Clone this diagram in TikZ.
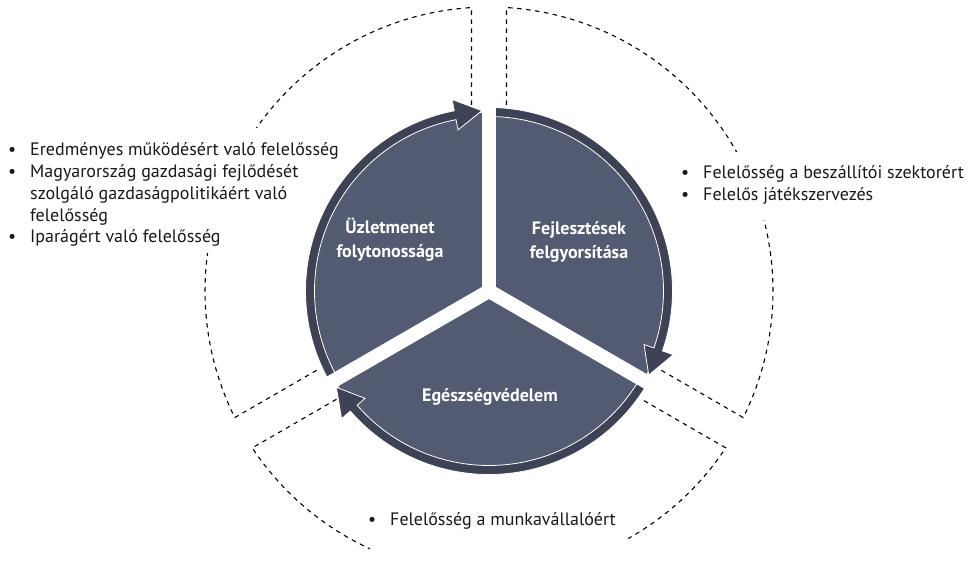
\documentclass[tikz,border=0pt]{standalone}
\usepackage{fontspec}
\setmainfont{PT Sans}
\usepackage{array}
\definecolor{slate}{RGB}{83,91,115}
\definecolor{bandc}{RGB}{61,66,85}
\pgfdeclarelayer{dashlayer}
\pgfdeclarelayer{masklayer}
\pgfsetlayers{dashlayer,masklayer,main}
\newcommand{\arrowband}[3]{%
  \filldraw[bandstyle] (#1:183.5) arc[start angle=#1, end angle=#2, radius=183.5]
    -- (#2:195) -- (#3:180.5) -- (#2:164) -- (#2:174.5)
    arc[start angle=#2, end angle=#1, radius=174.5] -- cycle;}
\begin{document}
\begin{tikzpicture}[x=1pt,y=1pt,
  bandstyle/.style={fill=bandc, draw=white, line width=0.8pt, line join=miter},
  dashline/.style={draw=black, line width=1.1pt, dash pattern=on 4.5pt off 4.5pt},
  gapline/.style={draw=white, line width=14pt, line cap=round},
  label/.style={text=white, font=\fontsize{18}{24}\selectfont\bfseries, align=center},
  listtext/.style={font=\fontsize{18}{21.7}\selectfont, inner sep=0pt, text=black!90},
  mask/.style={fill=white}]
\useasboundingbox (0,0) rectangle (968,578);
\begin{scope}[shift={(489,287)}]
  % dashed outer sectors
  \begin{pgfonlayer}{dashlayer}
  \draw[dashline] (95.37:187) -- (93.53:284) arc[start angle=93.53, end angle=206.47, radius=284] -- (204.63:187);
  \draw[dashline] (84.63:187) -- (86.47:284) arc[start angle=86.47, end angle=-26.47, radius=284] -- (-24.63:187);
  \draw[dashline] (215.37:187) -- (213.53:284) arc[start angle=213.53, end angle=326.47, radius=284] -- (324.63:187);
  \end{pgfonlayer}
  % inner disk
  \fill[slate] (0,0) circle (178);
  % arrow bands
  \arrowband{210}{100.9}{92.24}
  \arrowband{90}{-19.06}{-27.76}
  \arrowband{330}{220.9}{212.24}
  % gaps
  \foreach \a in {90,-30,210} \draw[gapline] (0,0) -- (\a:200);
  % labels
  \node[label] (uzlet) at (-99,51) {Üzletmenet\\folytonossága};
  \node[label] (fejl) at (90,49) {Fejlesztések\\felgyorsítása};
  \node[label] (egesz) at (1,-106) {Egészségvédelem};
\end{scope}
\node[listtext, anchor=base west] (leftlist) at (8,422) {%
  \begin{tabular}[t]{@{}p{22pt}@{}l@{}}
  • & Eredményes működésért való felelősség\\
  • & Magyarország gazdasági fejlődését\\
   & szolgáló gazdaságpolitikáért való\\
   & felelősség\\
  • & Iparágért való felelősség
  \end{tabular}};
\node[listtext, anchor=base west] (rightlist) at (681,399) {%
  \begin{tabular}[t]{@{}p{22pt}@{}l@{}}
  • & Felelősség a beszállítói szektorért\\
  • & Felelős játékszervezés
  \end{tabular}};
\node[listtext, anchor=base west] (bottomlist) at (368,53) {%
  \begin{tabular}[t]{@{}p{22pt}@{}l@{}}
  • & Felelősség a munkavállalóért
  \end{tabular}};
\begin{pgfonlayer}{masklayer}
  \fill[mask] ([xshift=-6pt,yshift=-3.5pt]leftlist.south west) rectangle ([xshift=6pt,yshift=13pt]leftlist.north east);
  \fill[mask] ([xshift=-6pt,yshift=-12.5pt]rightlist.south west) rectangle ([xshift=6pt,yshift=12pt]rightlist.north east);
  \fill[mask] ([xshift=2pt]bottomlist.west |- 0,0) rectangle (628,75);
\end{pgfonlayer}
\end{tikzpicture}
\end{document}
